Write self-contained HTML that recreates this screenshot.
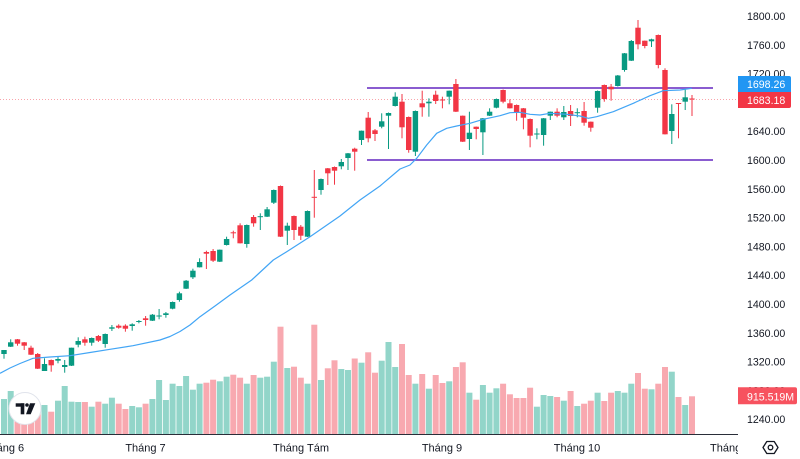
<!DOCTYPE html>
<html>
<head>
<meta charset="utf-8">
<style>
html,body{margin:0;padding:0;background:#ffffff;}
svg{display:block;}
text{font-family:"Liberation Sans",Arial,sans-serif;}
.g rect.b,.r rect.b{width:5.4px;}
</style>
</head>
<body>
<svg width="800" height="459" viewBox="0 0 800 459" xmlns="http://www.w3.org/2000/svg">
<rect x="0" y="0" width="800" height="459" fill="#ffffff"/>

<g fill="#92d5c9">
<rect x="1" y="399" width="6" height="35"/>
<rect x="7.7" y="391" width="6" height="43"/>
<rect x="41.5" y="405" width="6" height="29"/>
<rect x="55" y="400.7" width="6" height="33.3"/>
<rect x="61.7" y="386" width="6" height="48"/>
<rect x="68.5" y="401.7" width="6" height="32.3"/>
<rect x="75.2" y="402" width="6" height="32"/>
<rect x="88.7" y="406.7" width="6" height="27.3"/>
<rect x="102.2" y="403.7" width="6" height="30.3"/>
<rect x="108.9" y="397.7" width="6" height="36.3"/>
<rect x="129.2" y="406" width="6" height="28"/>
<rect x="135.9" y="407.3" width="6" height="26.7"/>
<rect x="149.4" y="399" width="6" height="35"/>
<rect x="156.1" y="380" width="6" height="54"/>
<rect x="162.9" y="400" width="6" height="34"/>
<rect x="169.6" y="383.7" width="6" height="50.3"/>
<rect x="176.4" y="386" width="6" height="48"/>
<rect x="183.1" y="376" width="6" height="58"/>
<rect x="189.9" y="389.7" width="6" height="44.3"/>
<rect x="196.6" y="383.7" width="6" height="50.3"/>
<rect x="216.8" y="381.3" width="6" height="52.7"/>
<rect x="223.6" y="376.7" width="6" height="57.3"/>
<rect x="243.8" y="383.7" width="6" height="50.3"/>
<rect x="257.3" y="377.7" width="6" height="56.3"/>
<rect x="264.1" y="376.7" width="6" height="57.3"/>
<rect x="270.8" y="361.7" width="6" height="72.3"/>
<rect x="284.3" y="368" width="6" height="66"/>
<rect x="304.5" y="383.7" width="6" height="50.3"/>
<rect x="318" y="380" width="6" height="54"/>
<rect x="338.3" y="369" width="6" height="65"/>
<rect x="345" y="370" width="6" height="64"/>
<rect x="358.5" y="362.7" width="6" height="71.3"/>
<rect x="378.7" y="360.7" width="6" height="73.3"/>
<rect x="385.5" y="342" width="6" height="92"/>
<rect x="392.2" y="367" width="6" height="67"/>
<rect x="412.4" y="383.7" width="6" height="50.3"/>
<rect x="425.9" y="388.7" width="6" height="45.3"/>
<rect x="446.2" y="381.3" width="6" height="52.7"/>
<rect x="466.4" y="392.7" width="6" height="41.3"/>
<rect x="479.9" y="385" width="6" height="49"/>
<rect x="486.6" y="392.7" width="6" height="41.3"/>
<rect x="493.4" y="388.3" width="6" height="45.7"/>
<rect x="533.9" y="406.7" width="6" height="27.3"/>
<rect x="540.6" y="395" width="6" height="39"/>
<rect x="547.3" y="396" width="6" height="38"/>
<rect x="560.8" y="400.7" width="6" height="33.3"/>
<rect x="574.3" y="406" width="6" height="28"/>
<rect x="594.6" y="392.7" width="6" height="41.3"/>
<rect x="614.8" y="391" width="6" height="43"/>
<rect x="621.5" y="392.7" width="6" height="41.3"/>
<rect x="628.3" y="383.7" width="6" height="50.3"/>
<rect x="648.5" y="389.3" width="6" height="44.7"/>
<rect x="668.8" y="371.7" width="6" height="62.3"/>
<rect x="682.2" y="405" width="6" height="29"/>
</g>
<g fill="#f8a9b0">
<rect x="14.5" y="405" width="6" height="29"/>
<rect x="21.2" y="408" width="6" height="26"/>
<rect x="28" y="410" width="6" height="24"/>
<rect x="34.7" y="405" width="6" height="29"/>
<rect x="48.2" y="411.7" width="6" height="22.3"/>
<rect x="81.9" y="402" width="6" height="32"/>
<rect x="95.4" y="401.7" width="6" height="32.3"/>
<rect x="115.7" y="403.7" width="6" height="30.3"/>
<rect x="122.4" y="409" width="6" height="25"/>
<rect x="142.6" y="403.7" width="6" height="30.3"/>
<rect x="203.4" y="382.7" width="6" height="51.3"/>
<rect x="210.1" y="379.7" width="6" height="54.3"/>
<rect x="230.3" y="374.7" width="6" height="59.3"/>
<rect x="237.1" y="377.7" width="6" height="56.3"/>
<rect x="250.6" y="375" width="6" height="59"/>
<rect x="277.5" y="326.7" width="6" height="107.3"/>
<rect x="291" y="366.7" width="6" height="67.3"/>
<rect x="297.8" y="377.7" width="6" height="56.3"/>
<rect x="311.3" y="324.7" width="6" height="109.3"/>
<rect x="324.8" y="368.3" width="6" height="65.7"/>
<rect x="331.5" y="360.3" width="6" height="73.7"/>
<rect x="351.7" y="358.5" width="6" height="75.5"/>
<rect x="365.2" y="352.3" width="6" height="81.7"/>
<rect x="372" y="372.7" width="6" height="61.3"/>
<rect x="399" y="344" width="6" height="90"/>
<rect x="405.7" y="375" width="6" height="59"/>
<rect x="419.2" y="374" width="6" height="60"/>
<rect x="432.7" y="375" width="6" height="59"/>
<rect x="439.4" y="383" width="6" height="51"/>
<rect x="452.9" y="367" width="6" height="67"/>
<rect x="459.7" y="362.3" width="6" height="71.7"/>
<rect x="473.2" y="399.7" width="6" height="34.3"/>
<rect x="500.1" y="383.7" width="6" height="50.3"/>
<rect x="506.9" y="394.3" width="6" height="39.7"/>
<rect x="513.6" y="398" width="6" height="36"/>
<rect x="520.4" y="398" width="6" height="36"/>
<rect x="527.1" y="387.7" width="6" height="46.3"/>
<rect x="554.1" y="397" width="6" height="37"/>
<rect x="567.6" y="391" width="6" height="43"/>
<rect x="581.1" y="403.7" width="6" height="30.3"/>
<rect x="587.8" y="400.7" width="6" height="33.3"/>
<rect x="601.3" y="401" width="6" height="33"/>
<rect x="608.1" y="392.7" width="6" height="41.3"/>
<rect x="635" y="373" width="6" height="61"/>
<rect x="641.8" y="388.7" width="6" height="45.3"/>
<rect x="655.3" y="383.7" width="6" height="50.3"/>
<rect x="662" y="367" width="6" height="67"/>
<rect x="675.5" y="397" width="6" height="37"/>
<rect x="689" y="396.3" width="6" height="37.7"/>
</g>

<line x1="0" y1="99.5" x2="738" y2="99.5" stroke="#f23645" stroke-opacity="0.45" stroke-width="1" stroke-dasharray="1 2"/>

<line x1="367" y1="88" x2="713" y2="88" stroke="#8a5cd0" stroke-width="2"/>
<line x1="367" y1="160" x2="713" y2="160" stroke="#8a5cd0" stroke-width="2"/>

<g fill="#089981" transform="translate(-0.2,0)">
<rect x="1.5" y="350" width="5.4" height="4"/><rect x="3.7" y="350" width="1" height="8.7"/>
<rect x="8.2" y="342.3" width="5.4" height="4.4"/><rect x="10.4" y="339.3" width="1" height="7.7"/>
<rect x="42" y="364" width="5.4" height="7"/><rect x="44.2" y="358.3" width="1" height="12.7"/>
<rect x="55.5" y="359" width="5.4" height="1.7"/><rect x="57.7" y="356.7" width="1" height="6.6"/>
<rect x="62.2" y="365" width="5.4" height="2"/><rect x="64.4" y="360" width="1" height="12.7"/>
<rect x="69" y="347.7" width="5.4" height="18"/><rect x="71.2" y="347.7" width="1" height="18.3"/>
<rect x="75.7" y="341" width="5.4" height="3.7"/><rect x="77.9" y="337.3" width="1" height="10"/>
<rect x="89.2" y="338" width="5.4" height="4.7"/><rect x="91.4" y="337.5" width="1" height="8.2"/>
<rect x="102.7" y="334" width="5.4" height="10"/><rect x="104.9" y="333.5" width="1" height="14.2"/>
<rect x="109.4" y="327.3" width="5.4" height="1.4"/><rect x="111.6" y="325" width="1" height="6"/>
<rect x="129.7" y="324.3" width="5.4" height="1.7"/><rect x="131.9" y="323.3" width="1" height="7.4"/>
<rect x="136.4" y="321" width="5.4" height="1"/><rect x="138.6" y="320" width="1" height="3.3"/>
<rect x="149.9" y="314.7" width="5.4" height="6"/><rect x="152.1" y="314" width="1" height="7"/>
<rect x="156.6" y="315.5" width="5.4" height="1"/><rect x="158.8" y="309" width="1" height="10.3"/>
<rect x="163.4" y="313.3" width="5.4" height="1.7"/><rect x="165.6" y="312" width="1" height="5.7"/>
<rect x="170.1" y="302" width="5.4" height="6.7"/><rect x="172.3" y="301.5" width="1" height="7.8"/>
<rect x="176.9" y="293.3" width="5.4" height="6.7"/><rect x="179.1" y="291.7" width="1" height="10"/>
<rect x="183.6" y="280.7" width="5.4" height="8"/><rect x="185.8" y="280" width="1" height="9"/>
<rect x="190.4" y="270.7" width="5.4" height="6.6"/><rect x="192.6" y="268.7" width="1" height="10.3"/>
<rect x="197.1" y="262" width="5.4" height="5.3"/><rect x="199.3" y="258.3" width="1" height="9.2"/>
<rect x="217.3" y="249.7" width="5.4" height="12"/><rect x="219.5" y="249.5" width="1" height="12.5"/>
<rect x="224.1" y="239" width="5.4" height="6"/><rect x="226.3" y="236.7" width="1" height="8.8"/>
<rect x="244.3" y="225" width="5.4" height="19"/><rect x="246.5" y="224.5" width="1" height="23.2"/>
<rect x="257.8" y="216.2" width="5.4" height="1"/><rect x="260" y="213.3" width="1" height="16.7"/>
<rect x="264.6" y="209.3" width="5.4" height="7.4"/><rect x="266.8" y="207" width="1" height="10"/>
<rect x="271.3" y="190" width="5.4" height="12.7"/><rect x="273.5" y="189.5" width="1" height="14.5"/>
<rect x="284.8" y="225.7" width="5.4" height="5"/><rect x="287" y="222.7" width="1" height="22.3"/>
<rect x="305" y="211" width="5.4" height="25.7"/><rect x="307.2" y="210.5" width="1" height="26.5"/>
<rect x="318.5" y="179" width="5.4" height="11"/><rect x="320.7" y="178.5" width="1" height="16.2"/>
<rect x="338.8" y="162" width="5.4" height="4.3"/><rect x="341" y="159" width="1" height="10.3"/>
<rect x="345.5" y="153.3" width="5.4" height="4.7"/><rect x="347.7" y="153" width="1" height="17"/>
<rect x="359" y="130.7" width="5.4" height="9.3"/><rect x="361.2" y="130.5" width="1" height="14.5"/>
<rect x="379.2" y="121.3" width="5.4" height="5.4"/><rect x="381.4" y="113.3" width="1" height="15"/>
<rect x="386" y="113" width="5.4" height="2.7"/><rect x="388.2" y="112.5" width="1" height="36.5"/>
<rect x="392.7" y="96.7" width="5.4" height="9.3"/><rect x="394.9" y="92.3" width="1" height="14.2"/>
<rect x="412.9" y="111" width="5.4" height="40.7"/><rect x="415.1" y="110.5" width="1" height="45.5"/>
<rect x="426.4" y="101.7" width="5.4" height="1.6"/><rect x="428.6" y="98.3" width="1" height="18.4"/>
<rect x="446.7" y="90.7" width="5.4" height="6"/><rect x="448.9" y="90.5" width="1" height="13.8"/>
<rect x="466.9" y="132.7" width="5.4" height="6.3"/><rect x="469.1" y="111.7" width="1" height="38.3"/>
<rect x="480.4" y="118.3" width="5.4" height="14"/><rect x="482.6" y="118" width="1" height="37"/>
<rect x="487.1" y="111.7" width="5.4" height="4"/><rect x="489.3" y="108.3" width="1" height="7.7"/>
<rect x="493.9" y="99" width="5.4" height="8.7"/><rect x="496.1" y="98.5" width="1" height="9.8"/>
<rect x="534.4" y="133.5" width="5.4" height="1"/><rect x="536.6" y="128.3" width="1" height="11"/>
<rect x="541.1" y="118.3" width="5.4" height="16.7"/><rect x="543.3" y="118" width="1" height="27.7"/>
<rect x="547.8" y="111.7" width="5.4" height="4"/><rect x="550" y="111.5" width="1" height="8.5"/>
<rect x="561.3" y="112" width="5.4" height="5.3"/><rect x="563.5" y="106" width="1" height="14"/>
<rect x="574.8" y="112.2" width="5.4" height="1"/><rect x="577" y="108.3" width="1" height="9"/>
<rect x="595.1" y="91" width="5.4" height="16.7"/><rect x="597.3" y="90.5" width="1" height="22.2"/>
<rect x="615.3" y="75.5" width="5.4" height="10.5"/><rect x="617.5" y="75" width="1" height="11.5"/>
<rect x="622" y="53.3" width="5.4" height="16.7"/><rect x="624.2" y="53" width="1" height="18.7"/>
<rect x="628.8" y="41" width="5.4" height="19.7"/><rect x="631" y="40" width="1" height="21"/>
<rect x="649" y="39.3" width="5.4" height="2"/><rect x="651.2" y="38.7" width="1" height="8.3"/>
<rect x="669.3" y="114" width="5.4" height="17"/><rect x="671.5" y="104.3" width="1" height="39.7"/>
<rect x="682.7" y="97.3" width="5.4" height="4.4"/><rect x="684.9" y="89.3" width="1" height="20.7"/>
</g>

<g fill="#f23645" transform="translate(-0.2,0)">
<rect x="15" y="339.3" width="5.4" height="4.4"/><rect x="17.2" y="339" width="1" height="6.7"/>
<rect x="21.7" y="342.3" width="5.4" height="3.4"/><rect x="23.9" y="342" width="1" height="8"/>
<rect x="28.5" y="347.7" width="5.4" height="7"/><rect x="30.7" y="345.7" width="1" height="9.3"/>
<rect x="35.2" y="354" width="5.4" height="14.7"/><rect x="37.4" y="353" width="1" height="16"/>
<rect x="48.7" y="360" width="5.4" height="5.3"/><rect x="50.9" y="359.5" width="1" height="12.2"/>
<rect x="82.4" y="339.3" width="5.4" height="3.4"/><rect x="84.6" y="336.7" width="1" height="9"/>
<rect x="95.9" y="336" width="5.4" height="4.7"/><rect x="98.1" y="335" width="1" height="7"/>
<rect x="116.2" y="325.7" width="5.4" height="2"/><rect x="118.4" y="324.3" width="1" height="4.4"/>
<rect x="122.9" y="325.7" width="5.4" height="3"/><rect x="125.1" y="324.3" width="1" height="7.4"/>
<rect x="143.1" y="318.3" width="5.4" height="1.7"/><rect x="145.3" y="316" width="1" height="9.7"/>
<rect x="203.9" y="252" width="5.4" height="1.7"/><rect x="206.1" y="250.7" width="1" height="18.3"/>
<rect x="210.6" y="251" width="5.4" height="9.7"/><rect x="212.8" y="249" width="1" height="13"/>
<rect x="230.8" y="232.3" width="5.4" height="1"/><rect x="233" y="230.7" width="1" height="7.6"/>
<rect x="237.6" y="225.3" width="5.4" height="18"/><rect x="239.8" y="223.3" width="1" height="20.2"/>
<rect x="251.1" y="217" width="5.4" height="6.3"/><rect x="253.3" y="215" width="1" height="11.7"/>
<rect x="278" y="186" width="5.4" height="50.7"/><rect x="280.2" y="185.5" width="1" height="51.5"/>
<rect x="291.5" y="216" width="5.4" height="14"/><rect x="293.7" y="215.5" width="1" height="24.5"/>
<rect x="298.3" y="226.7" width="5.4" height="9"/><rect x="300.5" y="225" width="1" height="15"/>
<rect x="311.8" y="196.8" width="5.4" height="1"/><rect x="314" y="170" width="1" height="47.7"/>
<rect x="325.3" y="168.3" width="5.4" height="5"/><rect x="327.5" y="168" width="1" height="17"/>
<rect x="332" y="167" width="5.4" height="3.7"/><rect x="334.2" y="166.5" width="1" height="18.2"/>
<rect x="352.2" y="148.7" width="5.4" height="3"/><rect x="354.4" y="147.7" width="1" height="23"/>
<rect x="365.7" y="117.7" width="5.4" height="20.6"/><rect x="367.9" y="112" width="1" height="30.3"/>
<rect x="372.5" y="130.3" width="5.4" height="3.7"/><rect x="374.7" y="129" width="1" height="12"/>
<rect x="399.5" y="101.7" width="5.4" height="25.6"/><rect x="401.7" y="94" width="1" height="44.3"/>
<rect x="406.2" y="117" width="5.4" height="33"/><rect x="408.4" y="116.5" width="1" height="36.2"/>
<rect x="419.7" y="103.3" width="5.4" height="4"/><rect x="421.9" y="90.7" width="1" height="26"/>
<rect x="433.2" y="94.7" width="5.4" height="6.3"/><rect x="435.4" y="90.7" width="1" height="13.3"/>
<rect x="439.9" y="99.5" width="5.4" height="1"/><rect x="442.1" y="96.7" width="1" height="11.6"/>
<rect x="453.4" y="84" width="5.4" height="27.7"/><rect x="455.6" y="79" width="1" height="33"/>
<rect x="460.2" y="115.7" width="5.4" height="26"/><rect x="462.4" y="115.5" width="1" height="26.5"/>
<rect x="473.7" y="126.7" width="5.4" height="2.3"/><rect x="475.9" y="126.5" width="1" height="12.8"/>
<rect x="500.6" y="90" width="5.4" height="11.7"/><rect x="502.8" y="89.5" width="1" height="13.8"/>
<rect x="507.4" y="103.3" width="5.4" height="5"/><rect x="509.6" y="99.3" width="1" height="9.2"/>
<rect x="514.1" y="105" width="5.4" height="7.7"/><rect x="516.3" y="104.5" width="1" height="16.2"/>
<rect x="520.9" y="108.3" width="5.4" height="9.4"/><rect x="523.1" y="108" width="1" height="21.3"/>
<rect x="527.6" y="119" width="5.4" height="16.7"/><rect x="529.8" y="118.5" width="1" height="28.8"/>
<rect x="554.6" y="111.7" width="5.4" height="4"/><rect x="556.8" y="108.3" width="1" height="9"/>
<rect x="568.1" y="111" width="5.4" height="5"/><rect x="570.3" y="105" width="1" height="21"/>
<rect x="581.6" y="111" width="5.4" height="11.7"/><rect x="583.8" y="102" width="1" height="23.7"/>
<rect x="588.3" y="121.7" width="5.4" height="6"/><rect x="590.5" y="121.5" width="1" height="10.2"/>
<rect x="601.8" y="85" width="5.4" height="14"/><rect x="604" y="84.5" width="1" height="17.2"/>
<rect x="608.6" y="86.7" width="5.4" height="2.6"/><rect x="610.8" y="84" width="1" height="16.7"/>
<rect x="635.5" y="27.7" width="5.4" height="16.6"/><rect x="637.7" y="20" width="1" height="29.3"/>
<rect x="642.3" y="40.7" width="5.4" height="5.3"/><rect x="644.5" y="40.5" width="1" height="7.8"/>
<rect x="655.8" y="35" width="5.4" height="30"/><rect x="658" y="34.5" width="1" height="33.8"/>
<rect x="662.5" y="70" width="5.4" height="64.3"/><rect x="664.7" y="68.3" width="1" height="66.2"/>
<rect x="676" y="103" width="5.4" height="1"/><rect x="678.2" y="103" width="1" height="35.3"/>
<rect x="689.5" y="98.5" width="5.4" height="1"/><rect x="691.7" y="95" width="1" height="21"/>
</g>

<polyline fill="none" stroke="#42a5f5" stroke-width="1.2" stroke-linejoin="round" points="0,373.3 10,368 20,363.5 33,358.3 50,357 70,355.7 90,352.5 110,349.3 133,345.7 160,340 170,336.5 180,331.5 190,325 200,316.7 215,306 230,295 251.7,280 273.3,260 286.7,251.7 310,236.7 340,216 360,200 380,186 400,169 410,165 416.7,158.3 426.7,145 436.7,133.3 446.7,128.3 456.7,126 470,123.3 483.3,119.3 500,115.7 510,112.7 520,112.3 530,114.3 540,115 550,113.3 566.7,114.3 580,116 588.3,118.3 596.7,116.7 613.3,111.7 633.3,103.3 650,95.7 663.3,90.7 680,90 691.7,88.3"/>

<line x1="0" y1="434.5" x2="738" y2="434.5" stroke="#2a2e39" stroke-width="1"/>

<circle cx="25" cy="408.5" r="16" fill="#ffffff" stroke="#e0e3eb" stroke-width="1"/>
<g fill="#131722">
<rect x="15.7" y="403.3" width="8.6" height="3.4"/>
<rect x="20.7" y="403.3" width="3.6" height="11"/>
<circle cx="27" cy="405" r="1.8"/>
<polygon points="30,403.3 35.3,403.3 30.7,414.3 26,414.3"/>
</g>

<g font-size="10.6" fill="#131722">
<text x="747" y="20">1800.00</text>
<text x="747" y="48.8">1760.00</text>
<text x="747" y="77.6">1720.00</text>
<text x="747" y="135.2">1640.00</text>
<text x="747" y="164">1600.00</text>
<text x="747" y="192.8">1560.00</text>
<text x="747" y="221.6">1520.00</text>
<text x="747" y="250.4">1480.00</text>
<text x="747" y="279.2">1440.00</text>
<text x="747" y="308">1400.00</text>
<text x="747" y="336.8">1360.00</text>
<text x="747" y="365.6">1320.00</text>
<text x="747" y="394.4">1280.00</text>
<text x="747" y="423.2">1240.00</text>
</g>

<path d="M738 76 H789 a2 2 0 0 1 2 2 V92 H738 Z" fill="#2196f3"/>
<text x="747" y="88" font-size="10.6" fill="#ffffff">1698.26</text>
<path d="M738 92 H791 V106 a2 2 0 0 1 -2 2 H738 Z" fill="#f23645"/>
<text x="747" y="104" font-size="10.6" fill="#ffffff">1683.18</text>
<path d="M738 387.3 H795 a2 2 0 0 1 2 2 V402.3 a2 2 0 0 1 -2 2 H738 Z" fill="#f7525f"/>
<text x="747" y="400.5" font-size="10.6" fill="#ffffff">915.519M</text>

<defs><clipPath id="tclip"><rect x="0" y="436" width="738" height="23"/></clipPath></defs>
<g font-size="11" fill="#131722" clip-path="url(#tclip)">
<text x="4" y="451.5" text-anchor="middle">Tháng 6</text>
<text x="145.5" y="451.5" text-anchor="middle">Tháng 7</text>
<text x="301" y="451.5" text-anchor="middle">Tháng Tám</text>
<text x="442" y="451.5" text-anchor="middle">Tháng 9</text>
<text x="577" y="451.5" text-anchor="middle">Tháng 10</text>
<text x="710" y="451.5">Tháng 11</text>
</g>

<polygon points="763,447.5 766.8,441.5 774.2,441.5 778,447.5 774.2,453.5 766.8,453.5" fill="none" stroke="#131722" stroke-width="1.3" stroke-linejoin="round"/>
<circle cx="770.5" cy="447.5" r="2.3" fill="none" stroke="#131722" stroke-width="1.3"/>
</svg>
</body>
</html>
